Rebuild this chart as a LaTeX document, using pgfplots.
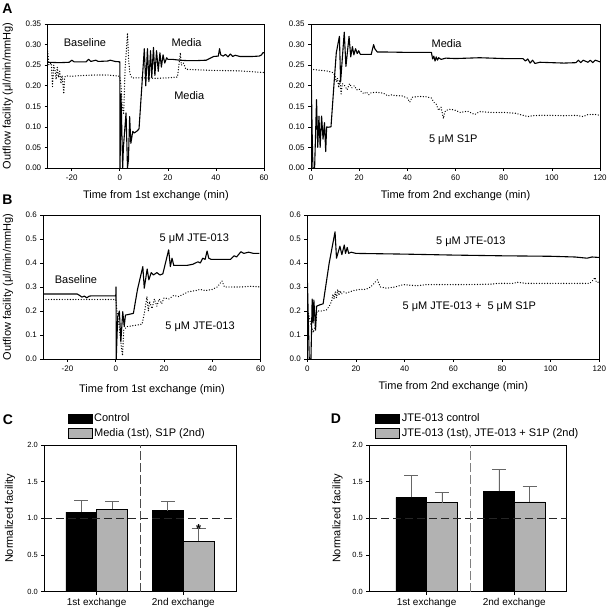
\documentclass[border=0pt]{standalone}
\usepackage{fontspec}
\setmainfont{Liberation Sans}
\usepackage{pgfplots}
\pgfplotsset{compat=1.18}

\tikzset{annot/.style={font=\fontsize{11}{12}\selectfont}}
\pgfplotsset{
  panel/.style={
    scale only axis, anchor=south west,
    axis line style={line width=0.6pt},
    tick align=outside, xtick pos=bottom, ytick pos=left,
    major tick length=3pt,
    tick style={black, line width=0.6pt},
    tick label style={font=\fontsize{8}{9}\selectfont},
    label style={font=\fontsize{11}{12}\selectfont},
    /pgf/number format/assume math mode=true,
    scaled y ticks=false,
  },
  solidline/.style={black, line width=1.1pt, no markers, line join=round},
  dotline/.style={black, line width=1.35pt, no markers, line cap=round,
    dash pattern=on 0.01pt off 2.7pt},
  barleg/.style={legend image code/.code={\draw[##1, draw=black, line width=0.5pt] (0pt,-4.7pt) rectangle (24pt,4.7pt);}},
}

\begin{document}
\begin{tikzpicture}
\useasboundingbox (0,0) rectangle (607pt,613pt);

% panel letters
\node[font=\fontsize{14}{15}\bfseries\selectfont] at (7.5pt,604pt) {A};
\node[font=\fontsize{14}{15}\bfseries\selectfont] at (7.5pt,413pt) {B};
\node[font=\fontsize{14}{15}\bfseries\selectfont] at (8pt,193pt) {C};
\node[font=\fontsize{14}{15}\bfseries\selectfont] at (336pt,194pt) {D};

% ---------- A left ----------
\begin{axis}[panel, at={(47.7pt,445pt)}, width=216.3pt, height=144pt,
  xmin=-30, xmax=60, ymin=0, ymax=0.35,
  xtick={-20,0,20,40,60}, ytick={0,0.05,...,0.36},
  yticklabel style={/pgf/number format/.cd, fixed, fixed zerofill, precision=2},
  xlabel={Time from 1st exchange (min)},
  ylabel={Outflow facility (μl/min/mmHg)},
  xlabel style={at={(axis description cs:0.5,-0.19)}, anchor=center},
  ylabel style={at={(axis description cs:-0.185,0.5)}, anchor=center},
]
\addplot[solidline] coordinates {
(-30,0.257) (-25,0.256) (-21,0.257) (-20,0.262) (-19,0.258) (-14,0.258) (-13,0.264)
(-12,0.259) (-10,0.262) (-9,0.259) (-5,0.260) (-4,0.262) (-2,0.259) (0,0.258)
(0.1,0) (0.5,0.18) (1.2,0) (1.5,0.05) (2.6,0.134) (3.2,0) (3.6,0.02) (4.1,0.125)
(4.6,0.06) (5.4,0.089) (6,0.085) (7.2,0.09) (8,0.095) (10.2,0.29) (10.8,0.20)
(11.5,0.29) (12.1,0.21) (12.8,0.285) (13.3,0.22) (14,0.293) (14.6,0.225)
(15.3,0.285) (16,0.235) (16.7,0.28) (17.3,0.245) (18,0.275) (18.7,0.255)
(19.5,0.268) (20,0.264) (22,0.264) (25,0.262) (28,0.261) (32,0.261) (36,0.262)
(38,0.268) (39,0.271) (41,0.272) (41.5,0.29) (42,0.275) (43,0.272) (44,0.276)
(45,0.27) (46,0.277) (47,0.271) (48,0.274) (50,0.271) (55,0.271) (58,0.272)
(59,0.275) (59.5,0.28) (60,0.28)};
\addplot[dotline] coordinates {
(-30,0.284) (-29.5,0.25) (-28.5,0.255) (-28,0.198) (-27.5,0.25) (-27,0.24)
(-26.5,0.215) (-26,0.245) (-25.5,0.22) (-25,0.235) (-24.5,0.205) (-24,0.225)
(-23.3,0.18) (-23,0.22) (-22.5,0.224) (-20,0.223) (-15,0.225) (-10,0.226)
(-5,0.226) (0,0.223) (0.5,0.2) (1,0.15) (1.6,0.13) (2.2,0.24) (3.2,0.328)
(3.7,0.26) (4.2,0.23) (5,0.219) (10,0.219) (15,0.218) (20,0.219) (24,0.221)
(25.2,0.28) (25.6,0.25) (26.5,0.255) (27.5,0.24) (30,0.239) (40,0.237)
(50,0.236) (60,0.232)};
\node[annot] at (axis cs:-14.5,0.306) {Baseline};
\node[annot] at (axis cs:27.8,0.306) {Media};
\node[annot] at (axis cs:28.9,0.176) {Media};
\end{axis}

% ---------- A right ----------
\begin{axis}[panel, at={(311pt,445pt)}, width=289pt, height=144pt,
  xmin=0, xmax=120, ymin=0, ymax=0.35,
  xtick={0,20,...,120}, ytick={0,0.05,...,0.36},
  yticklabel style={/pgf/number format/.cd, fixed, fixed zerofill, precision=2},
  xlabel={Time from 2nd exchange (min)},
  xlabel style={at={(axis description cs:0.5,-0.19)}, anchor=center},
]
\addplot[solidline] coordinates {
(0,0.255) (0.5,0.08) (0.8,0) (1.5,0) (2.3,0.166) (2.8,0.05) (3.3,0.126) (3.8,0.05)
(4.4,0.126) (5,0.07) (5.6,0.11) (6.1,0.04) (6.5,0.10) (7,0.099) (8.3,0.1)
(9.5,0.2) (10.5,0.28) (11.8,0.32) (12.3,0.21) (13.8,0.33) (14.5,0.247)
(15.8,0.32) (16.5,0.27) (17.2,0.295) (17.8,0.275) (18.5,0.29) (19.2,0.278)
(19.8,0.285) (20.5,0.276) (25,0.276) (26,0.30) (26.5,0.29) (27.5,0.282)
(30,0.282) (40,0.281) (45,0.281) (50,0.281) (50.5,0.265) (51,0.272) (51.5,0.26)
(52,0.27) (52.5,0.262) (53,0.268) (54,0.264) (56,0.267) (60,0.266) (70,0.268)
(80,0.266) (88,0.266) (89,0.26) (90,0.265) (91,0.255) (92,0.262) (93,0.254)
(95,0.257) (100,0.256) (105,0.255) (110,0.256) (111,0.262) (112,0.256)
(113,0.262) (115,0.257) (116,0.262) (117,0.256) (118,0.262) (120,0.258)};
\addplot[dotline] coordinates {
(0,0.24) (3,0.238) (6.5,0.236) (9,0.232) (10,0.225) (10.5,0.21) (11,0.218)
(11.5,0.195) (12,0.215) (12.5,0.18) (13,0.205) (14,0.2) (15,0.19) (16,0.205)
(17,0.195) (18,0.2) (19,0.19) (20,0.192) (21,0.185) (22,0.18) (23,0.185)
(24,0.178) (25,0.183) (27,0.184) (30,0.182) (32,0.175) (33,0.178) (35,0.176)
(38,0.175) (40,0.17) (41,0.16) (42,0.172) (45,0.174) (48,0.173) (50,0.17)
(51,0.16) (52,0.155) (53,0.14) (54,0.148) (55,0.12) (55.5,0.135) (56,0.14)
(58,0.143) (60,0.14) (62,0.135) (65,0.138) (68,0.13) (70,0.137) (75,0.135)
(80,0.135) (85,0.133) (88,0.128) (90,0.125) (92,0.127) (95,0.128) (100,0.128)
(105,0.127) (110,0.128) (113,0.125) (115,0.13) (118,0.13) (120,0.128)};
\node[annot] at (axis cs:56.3,0.303) {Media};
\node[annot] at (axis cs:59.1,0.068) {5 μM S1P};
\end{axis}

% ---------- B left ----------
\begin{axis}[panel, at={(43.3pt,254pt)}, width=217.4pt, height=144pt,
  xmin=-30, xmax=60, ymin=0, ymax=0.6,
  xtick={-20,0,20,40,60}, ytick={0,0.1,...,0.61},
  yticklabel style={/pgf/number format/.cd, fixed, fixed zerofill, precision=1},
  xlabel={Time from 1st exchange (min)},
  ylabel={Outflow facility (μl/min/mmHg)},
  xlabel style={at={(axis description cs:0.5,-0.21)}, anchor=center},
  ylabel style={at={(axis description cs:-0.162,0.5)}, anchor=center},
]
\addplot[solidline] coordinates {
(-30,0.271) (-16,0.271) (-15,0.265) (-14,0.258) (-13,0.262) (-12,0.255)
(-11,0.262) (-10,0.263) (-5,0.263) (0,0.263) (0.1,0.30) (0.2,0) (0.8,0.175)
(1.5,0.2) (2.1,0.072) (2.9,0.197) (3.5,0.135) (4,0.183) (5,0.185) (7.3,0.19)
(9,0.29) (11.2,0.385) (11.8,0.295) (13,0.375) (13.7,0.33) (14.7,0.36)
(15.6,0.35) (17,0.36) (18.3,0.35) (19.5,0.355) (21.9,0.455) (22.6,0.385)
(23.3,0.42) (24,0.39) (26,0.39) (29.5,0.39) (32,0.395) (34,0.405) (35,0.4)
(36,0.42) (37,0.415) (37.8,0.45) (38.5,0.42) (39.5,0.415) (45,0.415)
(47.5,0.415) (49,0.43) (50,0.425) (51.8,0.447) (53,0.44) (55,0.445) (57,0.44)
(59.5,0.44)};
\addplot[dotline] coordinates {
(-30,0.248) (-10,0.248) (0,0.248) (0.5,0.2) (1.5,0.13) (2.3,0.05) (2.8,0.014)
(3.3,0.12) (4.6,0.135) (8,0.14) (10.9,0.145) (12,0.2) (12.9,0.26) (13.5,0.2)
(14,0.24) (15,0.21) (16,0.25) (17,0.22) (18,0.25) (19,0.23) (20,0.255)
(22,0.25) (24,0.265) (26,0.26) (28,0.27) (30,0.28) (33,0.285) (35,0.29)
(37,0.285) (40,0.29) (42,0.3) (44,0.325) (45,0.3) (48,0.3) (52,0.3) (56,0.303)
(60,0.3)};
\node[annot] at (axis cs:32.5,0.503) {5 μM JTE-013};
\node[annot] at (axis cs:-16.5,0.33) {Baseline};
\node[annot] at (axis cs:34.9,0.135) {5 μM JTE-013};
\end{axis}

% ---------- B right ----------
\begin{axis}[panel, at={(307.3pt,254pt)}, width=292pt, height=144pt,
  xmin=0, xmax=120, ymin=0, ymax=0.6,
  xtick={0,20,...,120}, ytick={0,0.1,...,0.61},
  yticklabel style={/pgf/number format/.cd, fixed, fixed zerofill, precision=1},
  xlabel={Time from 2nd exchange (min)},
  xlabel style={at={(axis description cs:0.5,-0.192)}, anchor=center},
]
\addplot[solidline] coordinates {
(0,0.343) (0.8,0) (1.5,0) (2,0.25) (2.4,0.15) (2.7,0.246) (3.4,0.12) (3.8,0.22)
(5,0.225) (6.5,0.23) (9,0.40) (11.4,0.53) (12,0.42) (13.4,0.47) (14.2,0.435)
(15.2,0.475) (15.7,0.44) (16.4,0.465) (17,0.44) (18,0.445) (20,0.44)
(40,0.437) (60,0.433) (80,0.43) (100,0.428) (110,0.425) (115,0.42) (117,0.425)
(120,0.423)};
\addplot[dotline] coordinates {
(0.5,0.19) (1.5,0.14) (2.5,0.11) (3.5,0.15) (4,0.2) (6,0.2) (8,0.205) (9,0.22)
(10,0.24) (10.5,0.27) (11,0.25) (11.5,0.28) (12,0.255) (12.5,0.29) (13,0.265)
(13.5,0.285) (14,0.27) (15,0.28) (16,0.275) (17.5,0.28) (19,0.285) (21.6,0.29)
(24,0.29) (26,0.3) (28.8,0.33) (30,0.3) (32.6,0.295) (36,0.3) (39.5,0.31)
(45,0.305) (49,0.31) (55,0.31) (65,0.31) (76,0.312) (78,0.315) (85,0.315)
(86,0.32) (90,0.315) (100,0.315) (110,0.315) (116,0.315) (117.6,0.33)
(118.2,0.34) (118.8,0.32) (120,0.32)};
\node[annot] at (axis cs:67.2,0.489) {5 μM JTE-013};
\node[annot] at (axis cs:66.6,0.218) {5 μM JTE-013 +\ \ 5 μM S1P};
\end{axis}

% ---------- C ----------
\begin{axis}[panel, at={(44.3pt,21.3pt)}, width=192.3pt, height=146.7pt,
  ybar, bar width=0.356,
  xmin=0.396, xmax=2.615, ymin=0, ymax=2,
  xtick={1,2}, xticklabels={1st exchange, 2nd exchange},
  xticklabel style={font=\fontsize{10}{11}\selectfont},
  ytick={0,0.5,...,2.01},
  yticklabel style={font=\fontsize{7.5}{9}\selectfont, /pgf/number format/.cd, fixed, fixed zerofill, precision=1},
  ylabel={Normalized facility},
  ylabel style={at={(axis description cs:-0.178,0.5)}, anchor=center},
  legend style={at={(axis description cs:0.105,1.24)}, anchor=north west,
    draw=none, fill=none, font=\fontsize{11}{12}\selectfont, row sep=1.2pt},
  legend cell align=left,
  error bars/y dir=plus, error bars/y explicit,
  error bars/error bar style={line width=0.8pt, black!60},
  error bars/error mark options={rotate=90, mark size=7pt, line width=0.8pt, black!60},
]
\addplot[barleg, fill=black, draw=black, bar shift=-0.178] coordinates {
(1,1.086) +- (0,0.159) (2,1.105) +- (0,0.127)};
\addlegendentry{Control}
\addplot[barleg, fill=black!30, draw=black, bar shift=0.178] coordinates {
(1,1.123) +- (0,0.113) (2,0.69) +- (0,0.178)};
\addlegendentry{Media (1st), S1P (2nd)}
\draw[black!85, line width=0.9pt, dash pattern=on 8pt off 4pt] (axis cs:0.396,1) -- (axis cs:2.615,1);
\draw[black!70, line width=0.8pt, dash pattern=on 9pt off 3pt] (axis cs:1.5,0) -- (axis cs:1.5,2);
\node[anchor=base, inner sep=0pt, font=\fontsize{13}{13}\bfseries\selectfont] at (axis cs:2.178,0.80) {*};
\end{axis}

% ---------- D ----------
\begin{axis}[panel, at={(369.3pt,21.3pt)}, width=197.3pt, height=146.7pt,
  ybar, bar width=0.35,
  xmin=0.346, xmax=2.597, ymin=0, ymax=2,
  xtick={1,2}, xticklabels={1st exchange, 2nd exchange},
  xticklabel style={font=\fontsize{10}{11}\selectfont},
  ytick={0,0.5,...,2.01},
  yticklabel style={font=\fontsize{7.5}{9}\selectfont, /pgf/number format/.cd, fixed, fixed zerofill, precision=1},
  ylabel={Normalized facility},
  ylabel style={at={(axis description cs:-0.161,0.5)}, anchor=center},
  legend style={at={(axis description cs:0.015,1.24)}, anchor=north west,
    draw=none, fill=none, font=\fontsize{11}{12}\selectfont, row sep=1.2pt},
  legend cell align=left,
  error bars/y dir=plus, error bars/y explicit,
  error bars/error bar style={line width=0.8pt, black!60},
  error bars/error mark options={rotate=90, mark size=7pt, line width=0.8pt, black!60},
]
\addplot[barleg, fill=black, draw=black, bar shift=-0.175] coordinates {
(1,1.286) +- (0,0.30) (2,1.368) +- (0,0.30)};
\addlegendentry{JTE-013 control}
\addplot[barleg, fill=black!30, draw=black, bar shift=0.175] coordinates {
(1,1.214) +- (0,0.141) (2,1.223) +- (0,0.209)};
\addlegendentry{JTE-013 (1st), JTE-013 + S1P (2nd)}
\draw[black!85, line width=0.9pt, dash pattern=on 8pt off 4pt] (axis cs:0.346,1) -- (axis cs:2.597,1);
\draw[black!50, line width=0.8pt, dash pattern=on 9pt off 3pt] (axis cs:1.5,0) -- (axis cs:1.5,2);
\end{axis}
\end{tikzpicture}
\end{document}
